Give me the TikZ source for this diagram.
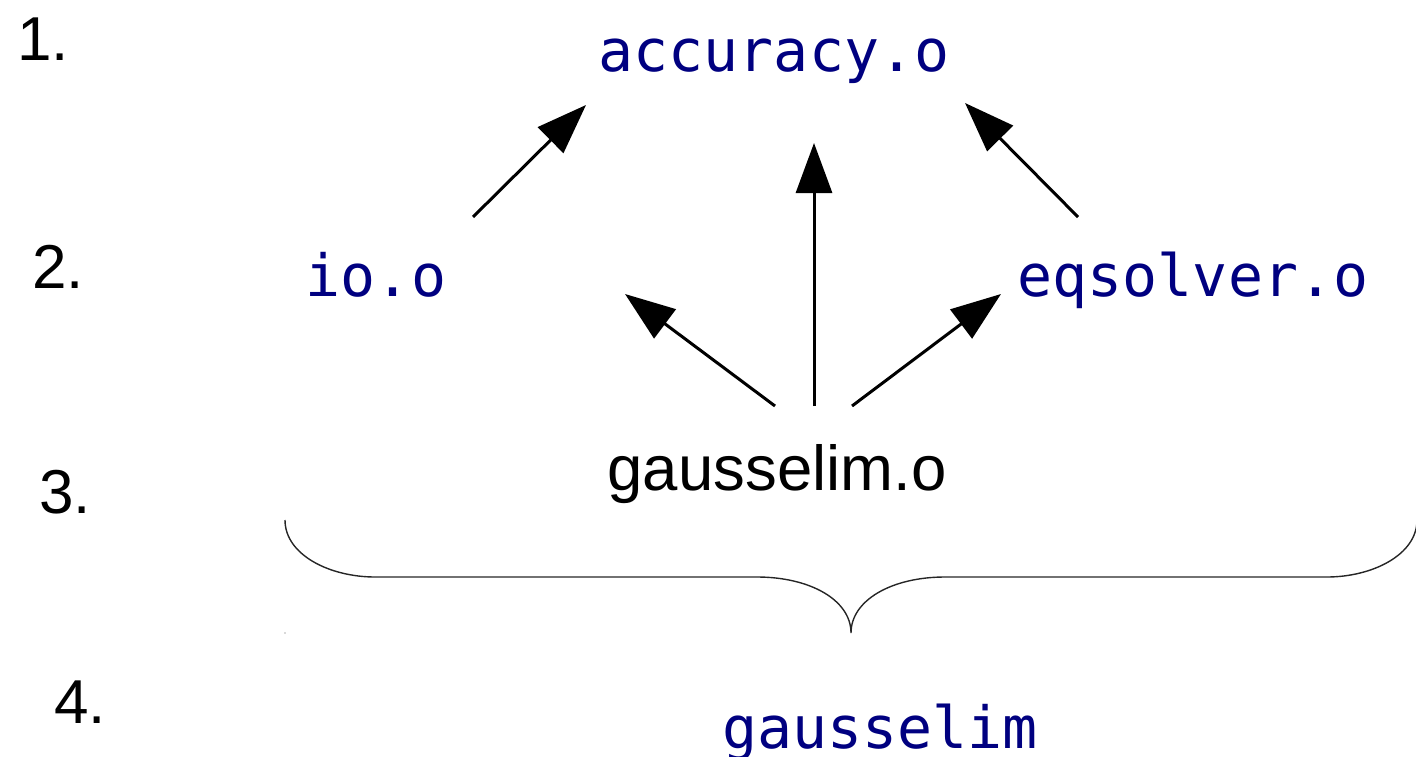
\documentclass[tikz,border=0pt]{standalone}
\usepackage{fontspec}
\setmainfont{Liberation Sans}
\newfontfamily\monofam{DejaVu Sans Mono}
\usetikzlibrary{arrows.meta}
\definecolor{navy}{HTML}{000080}
\begin{document}
\begin{tikzpicture}[x=1pt,y=-1pt,
  mono/.style={inner sep=0pt,anchor=base,text=navy,font=\monofam\fontsize{58.2}{70}\selectfont},
  lbl/.style={inner sep=0pt,anchor=base west,font=\fontsize{62}{74}\selectfont},
  dep/.style={line width=3pt,-{Triangle[length=50pt,width=36pt]}},
  brace/.style={line width=1.4pt,draw=black!85}]
\useasboundingbox (0,0) rectangle (1416,757);
% level numbers
\node[lbl] (n1) at (17,61) {1.};
\node[lbl] (n2) at (32,288) {2.};
\node[lbl] (n3) at (39,513) {3.};
\node[lbl] (n4) at (54,723) {4.};
% files
\node[mono] (acc) at (774,72) {accuracy.o};
\node[mono] (io) at (376,296) {io.o};
\node[mono] (eq) at (1193,296) {eqsolver.o};
\node[inner sep=0pt,anchor=base,font=\fontsize{63.5}{75}\selectfont] (ge) at (777,490) {gausselim.o};
\node[mono] (exe) at (880,748) {gausselim};
% arrow endpoints
\coordinate (ioS) at (473,217);
\coordinate (accL) at (586,105);
\coordinate (eqS) at (1078,217);
\coordinate (accR) at (965,103);
\coordinate (geM) at (814,406);
\coordinate (accM) at (814,143);
\coordinate (geL) at (775,406);
\coordinate (ioT) at (625,294);
\coordinate (geR) at (852,406);
\coordinate (eqT) at (1001,294);
\draw[dep] (ioS) -- (accL);
\draw[dep] (eqS) -- (accR);
\draw[dep] (geM) -- (accM);
\draw[dep] (geL) -- (ioT);
\draw[dep] (geR) -- (eqT);
% brace
\draw[brace] (285,520) .. controls (285,555) and (330,577) .. (375,577)
  -- (757,577) .. controls (810,577) and (851,600) .. (851,633)
  .. controls (851,600) and (892,577) .. (945,577)
  -- (1327,577) .. controls (1372,577) and (1417,555) .. (1417,520);
\fill[black!30] (285,633) circle (0.8);
\end{tikzpicture}
\end{document}
